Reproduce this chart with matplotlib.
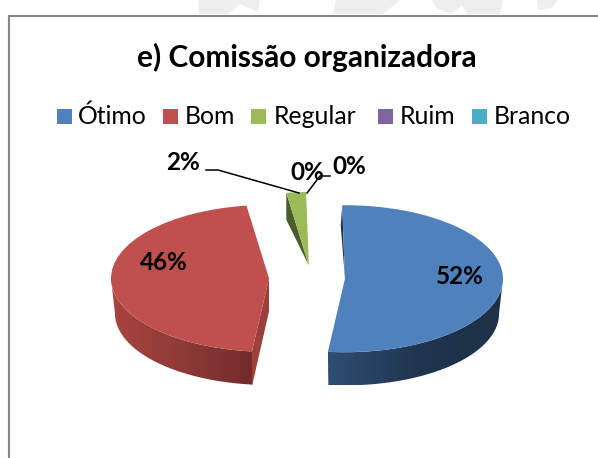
import numpy as np
import matplotlib
matplotlib.use('Agg')
import matplotlib.pyplot as plt
from matplotlib.colors import LinearSegmentedColormap
from matplotlib.patches import Polygon, Rectangle

plt.rcParams['font.family'] = ['Lato', 'DejaVu Sans']

# Chart data
categories = ['Ótimo', 'Bom', 'Regular', 'Ruim', 'Branco']
values = [52, 46, 2, 0, 0]
pct_labels = ['52%', '46%', '2%', '0%', '0%']
colors = ['#4F81BD', '#C0504D', '#9BBB59', '#8064A2', '#4BACC6']
title = 'e) Comissão organizadora'

W, H = 598, 458
CX, CY = 311, 278      # pie centre in pixels
RX, RY = 158, 73.5     # squashed radius in pixels
DEPTH = 35 / RY

fig = plt.figure(figsize=(W / 100, H / 100), dpi=100, facecolor='white')
ax = fig.add_axes([0, 0, 1, 1])
wedges, _ = ax.pie(values, startangle=91, counterclock=False, colors=colors,
                   explode=[34 / RX, 42 / RX, 0.17, 0, 0], radius=1,
                   wedgeprops={'zorder': 3, 'linewidth': 0})
ax.set_aspect('auto')
ax.axis('off')


def point(w, deg, scale=1.0, drop=0.0):
    t = np.radians(deg)
    return (w.center[0] + w.r * scale * np.cos(t),
            w.center[1] + w.r * scale * np.sin(t) - drop)


def side(w, t1, t2, stops):
    # curved side of a slice, shaded from left to right
    ts = np.linspace(t1, t2, 80)
    top = [point(w, t) for t in ts]
    bottom = [point(w, t, 0.975, DEPTH) for t in ts[::-1]]
    clip = Polygon(top + bottom, closed=True, transform=ax.transData, fc='none', ec='none')
    ax.add_patch(clip)
    xs = [p[0] for p in top + bottom]
    ys = [p[1] for p in top + bottom]
    cmap = LinearSegmentedColormap.from_list('side', stops)
    img = ax.imshow(np.linspace(0, 1, 200).reshape(1, -1), cmap=cmap, aspect='auto', zorder=1,
                    extent=[min(xs), max(xs), min(ys), max(ys)])
    img.set_clip_path(clip)


blue, red, green = wedges[0], wedges[1], wedges[2]
side(blue, blue.theta1, 0, ['#2E4E74', '#20364F', '#1D3046'])
side(red, -180, red.theta2, ['#A8443F', '#8E3A37', '#722C2B'])
ax.set_xlim(-CX / RX, (W - CX) / RX)
ax.set_ylim((CY - H) / RY, CY / RY)

# flat cut faces
red_end = point(red, red.theta2)
ax.add_patch(Polygon([red.center, red_end, (red_end[0], red_end[1] - DEPTH),
                      (red.center[0], red.center[1] - 33 / RY)], fc='#9C403C', ec='none', zorder=2))
blue_top = point(blue, blue.theta2)
ax.add_patch(Polygon([blue_top, (blue_top[0] - 1.5 / RX, blue_top[1] - 20 / RY), blue.center],
                     fc='#1F3552', ec='none', zorder=2))
green_left = point(green, green.theta2)
ax.add_patch(Polygon([green_left, (green_left[0], green_left[1] - 27 / RY), green.center],
                     fc='#4A5C2A', ec='none', zorder=2))

# overlay in pixel coordinates for frame, title, legend, labels
ov = fig.add_axes([0, 0, 1, 1], facecolor='none')
ov.set_xlim(0, W)
ov.set_ylim(H, 0)
ov.axis('off')

# faint watermark above the frame
blobs = [
    [(198, 0), (260, 0), (258, 12), (240, 4), (228, 14), (199, 14)],
    [(336, 0), (400, 0), (383, 14), (333, 14)],
    [(432, 0), (503, 0), (500, 14), (468, 14), (462, 6), (450, 14), (436, 8)],
    [(537, 0), (558, 0), (552, 8), (538, 10)],
]
for blob in blobs:
    ov.add_patch(Polygon(blob, fc='#EEEEEE', ec='none'))

ov.plot([W + 2, 8.5, 8.5], [15.5, 15.5, H + 2], color='#868686', lw=1.5, solid_joinstyle='miter')

ov.text(307, 57, title, fontsize=21.5, fontweight='bold', ha='center', va='center', color='black')

marker_x = [57, 163, 251, 378, 472]
text_x = [78, 185, 274, 400, 494]
for mx, tx, name, c in zip(marker_x, text_x, categories, colors):
    ov.add_patch(Rectangle((mx, 109), 15, 15, fc=c, ec='none'))
    ov.text(tx, 116, name, fontsize=17.8, ha='left', va='center', color='black')

label_pos = [(460, 276), (164, 263), (183, 163), (307, 172), (349, 167)]
for (x, y), lab in zip(label_pos, pct_labels):
    ov.text(x, y, lab, fontsize=17.5, fontweight='bold', ha='center', va='center', color='black')

ov.plot([206, 218, 299], [170, 170, 193], color='black', lw=1.1)
ov.plot([330, 320, 307], [176, 176, 193], color='black', lw=1.1)

fig.savefig('out.png', dpi=100)
